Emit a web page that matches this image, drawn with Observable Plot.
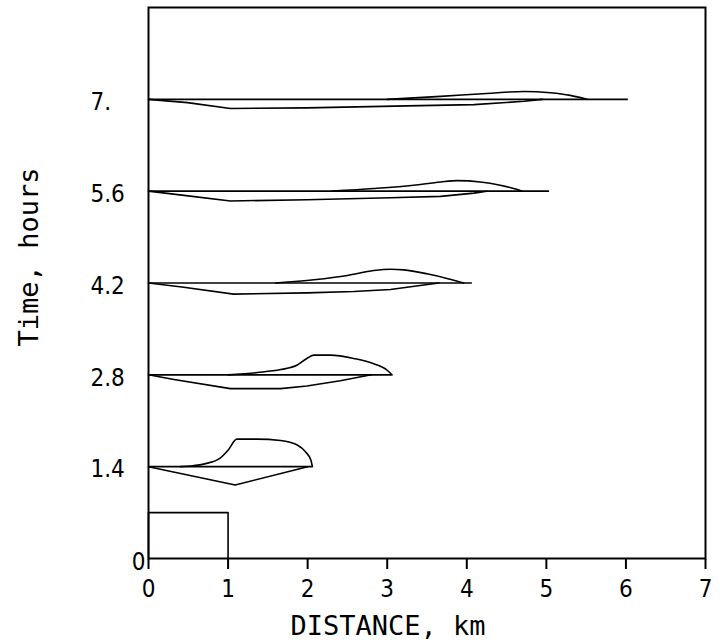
<!DOCTYPE html>
<html>
<head>
<meta charset="utf-8">
<script src="https://cdn.jsdelivr.net/npm/d3@7"></script>
<script src="https://cdn.jsdelivr.net/npm/@observablehq/plot@0.6"></script>
<style>
  html, body { margin: 0; padding: 0; background: #fff; }
  #chart svg { display: block; background: #fff; overflow: visible; }
</style>
</head>
<body>
<div id="chart"></div>
<script>
// ---- data ----
const times = [1.4, 2.8, 4.2, 5.6, 7];
const baseEnd = [2.06, 3.06, 4.07, 5.04, 6.03];

// initial slug at t = 0
const boxX = [0, 0, 1, 1];
const boxY = [0, 0.7, 0.7, 0];

// upper profiles (x in km, offset in hours above the time line)
const upperX_14 = [0.40, 0.53, 0.73, 0.90, 1.00, 1.11, 1.36, 1.66, 1.87, 1.97, 2.04, 2.06];
const upperD_14 = [0, 0.01, 0.05, 0.13, 0.25, 0.42, 0.42, 0.40, 0.33, 0.23, 0.10, 0];
const upperX_28 = [1.00, 1.37, 1.66, 1.87, 1.99, 2.08, 2.29, 2.58, 2.83, 3.00, 3.06];
const upperD_28 = [0, 0.035, 0.08, 0.15, 0.25, 0.30, 0.30, 0.25, 0.17, 0.07, 0];
const upperX_42 = [1.60, 2.08, 2.50, 2.83, 3.04, 3.21, 3.50, 3.75, 3.96];
const upperD_42 = [0, 0.05, 0.115, 0.19, 0.21, 0.20, 0.14, 0.07, 0];
const upperX_56 = [2.30, 2.83, 3.33, 3.67, 3.88, 4.17, 4.42, 4.59, 4.70];
const upperD_56 = [0, 0.04, 0.09, 0.14, 0.16, 0.14, 0.09, 0.04, 0];
const upperX_70 = [3.00, 3.67, 4.25, 4.72, 5.05, 5.30, 5.51];
const upperD_70 = [0, 0.045, 0.09, 0.12, 0.10, 0.06, 0];

// lower profiles (offset in hours below the time line)
const lowerX_14 = [0, 1.09, 2.00];
const lowerD_14 = [0, -0.28, 0];
const lowerX_28 = [0, 0.32, 1.03, 1.66, 1.99, 2.41, 2.80];
const lowerD_28 = [0, -0.07, -0.21, -0.21, -0.17, -0.09, 0];
const lowerX_42 = [0, 0.42, 1.07, 1.99, 2.58, 3.04, 3.46, 3.65];
const lowerD_42 = [0, -0.06, -0.17, -0.15, -0.13, -0.10, -0.03, 0];
const lowerX_56 = [0, 0.42, 1.03, 1.99, 3.04, 3.67, 4.09, 4.25];
const lowerD_56 = [0, -0.06, -0.15, -0.13, -0.10, -0.08, -0.03, 0];
const lowerX_70 = [0, 0.49, 1.03, 1.99, 3.25, 4.09, 4.72, 4.95];
const lowerD_70 = [0, -0.05, -0.14, -0.13, -0.10, -0.08, -0.03, 0];

const xTicks = [0, 1, 2, 3, 4, 5, 6, 7];
const xTickLabels = ["0", "1", "2", "3", "4", "5", "6", "7"];
const yTicks = [1.4, 2.8, 4.2, 5.6, 7];
const yTickLabels = ["1.4", "2.8", "4.2", "5.6", "7."];
const yZeroTick = [0];
const yZeroLabel = ["0"];
const xLabel = "DISTANCE, km";
const yLabel = "Time, hours";

// ---- build tables ----
const upperX = [upperX_14, upperX_28, upperX_42, upperX_56, upperX_70];
const upperD = [upperD_14, upperD_28, upperD_42, upperD_56, upperD_70];
const lowerX = [lowerX_14, lowerX_28, lowerX_42, lowerX_56, lowerX_70];
const lowerD = [lowerD_14, lowerD_28, lowerD_42, lowerD_56, lowerD_70];

function profile(xs, ds, name) {
  const rows = [];
  times.forEach((t, i) => {
    xs[i].forEach((x, j) => rows.push({id: name + i, x, y: t + ds[i][j]}));
  });
  return rows;
}
const upperRows = profile(upperX, upperD, "u");
const lowerRows = profile(lowerX, lowerD, "l");
const baseRows = times.map((t, i) => ({t, end: baseEnd[i]}));
const boxRows = boxX.map((x, i) => ({x, y: boxY[i]}));
const tickRows = xTicks.map((x) => ({x}));

const tickFont = "'Liberation Sans Narrow', 'DejaVu Sans Condensed', 'Liberation Sans', sans-serif";
const labelFont = "'DejaVu Sans Mono', monospace";

const W = 720, H = 644, mT = 7, mB = 86;

const chart = Plot.plot({
  width: W,
  height: H,
  marginLeft: 148,
  marginRight: 15,
  marginTop: mT,
  marginBottom: mB,
  style: {background: "#fff", color: "#000"},
  x: {domain: [0, 7]},
  y: {domain: [0, 8.4]},
  marks: [
    Plot.frame({stroke: "#000", strokeWidth: 2}),
    Plot.line(boxRows, {x: "x", y: "y", stroke: "#000", strokeWidth: 1.6}),
    Plot.ruleY(baseRows, {y: "t", x1: 0, x2: "end", stroke: "#000", strokeWidth: 1.6}),
    Plot.line(upperRows, {x: "x", y: "y", z: "id", curve: "monotone-x", stroke: "#000", strokeWidth: 1.6}),
    Plot.line(lowerRows, {x: "x", y: "y", z: "id", curve: "linear", stroke: "#000", strokeWidth: 1.6}),
    // short inward ticks on the bottom edge: an axis mark drawn on the "top" side, shifted down onto the bottom edge
    Plot.axisX({ticks: xTicks, anchor: "top", tickSize: 10, text: null, label: null,
      dy: H - mT - mB + 10, stroke: "#000", strokeWidth: 2}),
    Plot.axisX({ticks: xTicks, tickSize: 0, tickPadding: 21, label: null, fontSize: 24, fontFamily: tickFont, fill: "#000",
      tickFormat: (d) => xTickLabels[xTicks.indexOf(d)]}),
    Plot.axisY({ticks: yTicks, tickSize: 0, tickPadding: 58, textAnchor: "start", dy: 3,
      tickFormat: (d) => yTickLabels[yTicks.indexOf(d)], label: null, fontSize: 24, fontFamily: tickFont, fill: "#000"}),
    Plot.axisY({ticks: yZeroTick, tickSize: 0, tickPadding: 3, textAnchor: "end", dy: 4,
      tickFormat: (d) => yZeroLabel[yZeroTick.indexOf(d)], label: null, fontSize: 24, fontFamily: tickFont, fill: "#000"}),
    Plot.text([xLabel], {text: (d) => d, frameAnchor: "bottom", dx: -39, dy: 76, textAnchor: "middle", lineAnchor: "bottom",
      fontSize: 27, fontFamily: labelFont, fill: "#000"}),
    Plot.text([yLabel], {text: (d) => d, frameAnchor: "left", rotate: -90, dx: -111, dy: -26, textAnchor: "middle", lineAnchor: "bottom",
      fontSize: 27, fontFamily: labelFont, fill: "#000"})
  ]
});
document.getElementById("chart").appendChild(chart);
</script>
</body>
</html>
